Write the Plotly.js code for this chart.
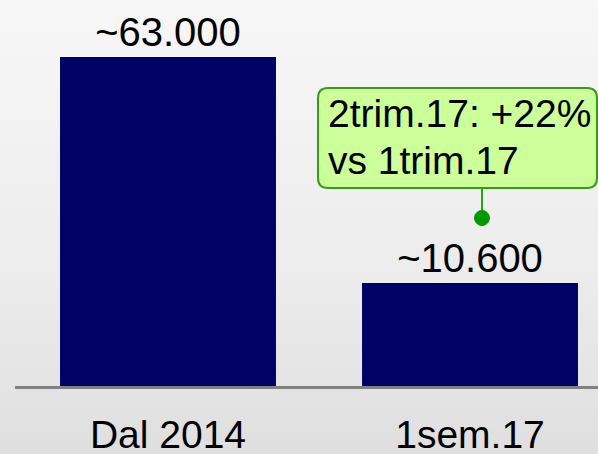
<!DOCTYPE html>
<html>
<head>
<meta charset="utf-8">
<script src="https://cdn.plot.ly/plotly-3.0.1.min.js"></script>
<style>
html,body{margin:0;padding:0;}
body{width:598px;height:454px;background:linear-gradient(to bottom,#f7f7f7 0%,#ececec 60%,#dfdfdf 100%);}
#chart{width:598px;height:454px;}
</style>
</head>
<body>
<div id="chart"></div>
<script>
// Data
const categories = ["Dal 2014", "1sem.17"];
const barHeights = [63000, 19700];        // bar heights as drawn
const barLabels = ["~63.000", "~10.600"]; // labels shown above bars
const calloutLines = ["2trim.17: +22%", "vs 1trim.17"];

// Layout helpers (pixel -> paper)
const L = 15, W = 583, T = 0, H = 386;
const X = px => (px - L) / W;
const Y = py => (H - py) / H;
const FONT = "Liberation Sans, Arial, sans-serif";

function roundRect(x0, y0, x1, y1, r) {
  const rx = r / W, ry = r / H;
  const a = X(x0), b = X(x1), top = Y(y0), bot = Y(y1);
  return `M ${a+rx},${top} L ${b-rx},${top} Q ${b},${top} ${b},${top-ry} ` +
         `L ${b},${bot+ry} Q ${b},${bot} ${b-rx},${bot} ` +
         `L ${a+rx},${bot} Q ${a},${bot} ${a},${bot+ry} ` +
         `L ${a},${top-ry} Q ${a},${top} ${a+rx},${top} Z`;
}

const trace = {
  type: "bar",
  x: categories,
  y: barHeights,
  text: barLabels,
  textposition: "outside",
  textfont: {family: FONT, size: 40, color: "#000"},
  cliponaxis: false,
  marker: {color: "#000066"},
  width: 0.715,
  hoverinfo: "none"
};

const layout = {
  width: 598, height: 454,
  margin: {l: L, r: 0, t: T, b: 454 - H, pad: 0},
  paper_bgcolor: "rgba(0,0,0,0)",
  plot_bgcolor: "rgba(0,0,0,0)",
  showlegend: false,
  font: {family: FONT, color: "#000"},
  xaxis: {
    type: "category",
    range: [-0.5066, 1.4238],
    showline: true, linecolor: "#808080", linewidth: 3,
    showgrid: false, zeroline: false, ticks: "",
    tickfont: {size: 39, color: "#000"},
    ticklabelstandoff: 12,
    fixedrange: true
  },
  yaxis: {
    range: [0, 73915],
    visible: false, showgrid: false, zeroline: false,
    fixedrange: true
  },
  shapes: [
    {type: "path", xref: "paper", yref: "paper", path: roundRect(318, 88, 597, 188, 10),
     fillcolor: "#ccff99", line: {color: "#3a9a1a", width: 2}},
    {type: "line", xref: "paper", yref: "paper", x0: X(482), x1: X(482), y0: Y(188), y1: Y(212),
     line: {color: "#2e9e1e", width: 2}},
    {type: "circle", xref: "paper", yref: "paper", x0: X(474.5), x1: X(489.5), y0: Y(210.5), y1: Y(225.5),
     fillcolor: "#009900", line: {color: "#009900", width: 1}}
  ],
  annotations: calloutLines.map((t, i) => ({
    xref: "paper", yref: "paper", x: X(326), y: Y(90 + i * 46.5),
    xanchor: "left", yanchor: "top", align: "left", showarrow: false, text: t,
    font: {family: FONT, size: 39, color: "#000"}
  }))
};

Plotly.newPlot("chart", [trace], layout, {displayModeBar: false, staticPlot: true});
</script>
</body>
</html>
